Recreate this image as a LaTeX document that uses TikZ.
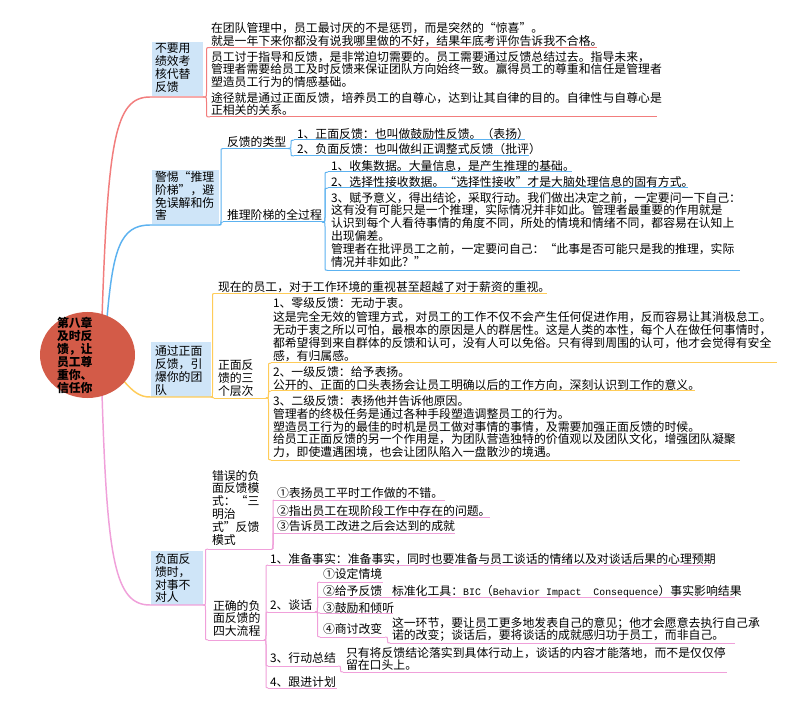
\documentclass[tikz,border=0pt]{standalone}
\usepackage{fontspec}
\setmainfont{Noto Sans CJK SC}
\newfontfamily\monof{Liberation Mono}
\usetikzlibrary{calc,shapes.geometric}
\definecolor{redb}{RGB}{242,125,125}
\definecolor{blueb}{RGB}{92,178,240}
\definecolor{yelb}{RGB}{255,204,88}
\definecolor{pinkb}{RGB}{240,160,218}
\definecolor{boxc}{RGB}{207,229,248}
\definecolor{ctrc}{RGB}{211,91,72}
\newcommand\ulin[4]{\coordinate (#1l) at (#2,#4);\coordinate (#1r) at (#3,#4);\draw[subl] (#1l) -- (#1r);}
\newcommand\mymono[1]{{\monof\fontsize{7.4}{9.6}\selectfont #1}}
\begin{document}
\begin{tikzpicture}[x=0.75pt,y=-0.75pt,
 txt/.style={anchor=north west,inner sep=0pt,outer sep=0pt,align=left,text=black,font=\fontsize{8.9}{9.6}\selectfont},
 mainl/.style={line width=1.1pt},
 subl/.style={line width=0.75pt},
 xm/.style={to path={let \p1=(\tikztostart),\p2=(\tikztotarget),\n1={\x1/2+\x2/2},\n2={(\y2>\y1?1:-1)*min(3.5pt,abs(\y2-\y1)/2)} in .. controls (\n1,\y1) .. (\n1,{\y1+(\n2)}) -- (\n1,{\y2-(\n2)}) .. controls (\n1,\y2) .. (\tikztotarget)}}
]
\fill[white] (0,0) rectangle (800,709);
\useasboundingbox (0,0) rectangle (800,709);

\coordinate (r0) at (102,318);
\coordinate (b0) at (107,318);
\coordinate (y0) at (123,380);
\coordinate (p0) at (102,393);

% ---------- branch 1 ----------
\begin{scope}[color=redb]
\fill[boxc] (152,42) rectangle (203,96.5);
\node[txt] (T1) at (155,43.5) {不要用\\绩效考\\核代替\\反馈};
\coordinate (T1l) at (150,97); \coordinate (T1r) at (203,97);
\draw[mainl] (r0) .. controls (108,140) and (115,97) .. (T1l) -- (T1r);
\node[txt] (A) at (211,22.5) {在团队管理中，员工最讨厌的不是惩罚，而是突然的“惊喜”。\\就是一年下来你都没有说我哪里做的不好，结果年底考评你告诉我不合格。};
\ulin{A}{210}{597}{47.5}
\node[txt] (B) at (211,51) {员工讨于指导和反馈，是非常迫切需要的。员工需要通过反馈总结过去。指导未来，\\管理者需要给员工及时反馈来保证团队方向始终一致。赢得员工的尊重和信任是管理者\\塑造员工行为的情感基础。\\[2pt]途径就是通过正面反馈，培养员工的自尊心，达到让其自律的目的。自律性与自尊心是\\正相关的关系。};
\ulin{B}{210}{657}{117}
\draw[subl] (T1r) to[xm] (Al);
\draw[subl] (T1r) to[xm] (Bl);
\end{scope}

% ---------- branch 2 ----------
\begin{scope}[color=blueb]
\fill[boxc] (152,170) rectangle (219,224.5);
\node[txt] (T2) at (155,171.5) {警惕“推理\\阶梯”，避\\免误解和伤\\害};
\coordinate (T2l) at (150,225); \coordinate (T2r) at (219,225);
\draw[mainl] (b0) .. controls (113,250) and (120,225) .. (T2l) -- (T2r);
\node[txt] (K1) at (227,136) {反馈的类型};
\ulin{K1}{223}{288}{148.5}
\node[txt] (K2) at (227,209) {推理阶梯的全过程};
\ulin{K2}{223}{322}{222}
\draw[subl] (T2r) to[xm] (K1l);
\draw[subl] (T2r) to[xm] (K2l);
\node[txt] (K1a) at (297,128) {1、正面反馈：也叫做鼓励性反馈。（表扬）};
\ulin{K1a}{294}{525}{140}
\node[txt] (K1b) at (297,143.5) {2、负面反馈：也叫做纠正调整式反馈（批评）};
\ulin{K1b}{294}{529}{156}
\draw[subl] (K1r) to[xm] (K1al);
\draw[subl] (K1r) to[xm] (K1bl);
\node[txt] (K2a) at (331,160.5) {1、收集数据。大量信息，是产生推理的基础。};
\ulin{K2a}{328}{572}{172}
\node[txt] (K2b) at (331,176.5) {2、选择性接收数据。“选择性接收”才是大脑处理信息的固有方式。};
\ulin{K2b}{328}{688}{188}
\node[txt] (K2c) at (331,192) {3、赋予意义，得出结论，采取行动。我们做出决定之前，一定要问一下自己：\\这有没有可能只是一个推理，实际情况并非如此。管理者最重要的作用就是\\认识到每个人看待事情的角度不同，所处的情境和情绪不同，都容易在认知上\\出现偏差。\\管理者在批评员工之前，一定要问自己：“此事是否可能只是我的推理，实际\\情况并非如此？”};
\ulin{K2c}{328}{740}{270.5}
\draw[subl] (K2r) to[xm] (K2al);
\draw[subl] (K2r) to[xm] (K2bl);
\draw[subl] (K2r) to[xm] (K2cl);
\end{scope}

% ---------- branch 3 ----------
\begin{scope}[color=yelb]
\fill[boxc] (151,342) rectangle (211,396.5);
\node[txt] (T3) at (155,346) {通过正面\\反馈，引\\爆你的团\\队};
\coordinate (T3l) at (150,397); \coordinate (T3r) at (211,397);
\draw[mainl] (y0) .. controls (133,392) and (140,397) .. (T3l) -- (T3r);
\node[txt] (D1) at (218,281.5) {现在的员工，对于工作环境的重视甚至超越了对于薪资的重视。};
\ulin{D1}{214}{547}{293.5}
\node[txt] (D2) at (218,360) {正面反\\馈的三\\个层次};
\ulin{D2}{214}{266}{398}
\draw[subl] (T3r) to[xm] (D1l);
\draw[subl] (T3r) to[xm] (D2l);
\node[txt] (E1) at (273,297) {1、零级反馈：无动于衷。\\[1.5pt]这是完全无效的管理方式，对员工的工作不仅不会产生任何促进作用，反而容易让其消极怠工。\\无动于衷之所以可怕，最根本的原因是人的群居性。这是人类的本性，每个人在做任何事情时，\\都希望得到来自群体的反馈和认可，没有人可以免俗。只有得到周围的认可，他才会觉得有安全\\感，有归属感。};
\ulin{E1}{271}{777}{363}
\node[txt] (E2) at (273,367) {2、一级反馈：给予表扬。\\公开的、正面的口头表扬会让员工明确以后的工作方向，深刻认识到工作的意义。};
\ulin{E2}{271}{695}{391}
\node[txt] (E3) at (273,395.5) {3、二级反馈：表扬他并告诉他原因。\\管理者的终极任务是通过各种手段塑造调整员工的行为。\\塑造员工行为的最佳的时机是员工做对事情的事情，及需要加强正面反馈的时候。\\给员工正面反馈的另一个作用是，为团队营造独特的价值观以及团队文化，增强团队凝聚\\力，即使遭遇困境，也会让团队陷入一盘散沙的境遇。};
\ulin{E3}{271}{740}{460}
\draw[subl] (D2r) to[xm] (E1l);
\draw[subl] (D2r) to[xm] (E2l);
\draw[subl] (D2r) to[xm] (E3l);
\end{scope}

% ---------- branch 4 ----------
\begin{scope}[color=pinkb]
\fill[boxc] (151,551) rectangle (203,604.5);
\node[txt] (T4) at (155,553.5) {负面反\\馈时，\\对事不\\对人};
\coordinate (T4l) at (150,605); \coordinate (T4r) at (203,605);
\draw[mainl] (p0) .. controls (107,560) and (115,605) .. (T4l) -- (T4r);
\node[txt] (F1) at (212,470) {错误的负\\面反馈模\\式：“三\\明治\\式”反馈\\模式};
\ulin{F1}{208}{272}{549}
\node[txt] (F2) at (213,600) {正确的负\\面反馈的\\四大流程};
\ulin{F2}{208}{264}{640}
\draw[subl] (T4r) to[xm] (F1l);
\draw[subl] (T4r) to[xm] (F2l);
\node[txt] (G1) at (277,487) {①表扬员工平时工作做的不错。};
\ulin{G1}{274}{445}{500}
\node[txt] (G2) at (277,505) {②指出员工在现阶段工作中存在的问题。};
\ulin{G2}{274}{490}{517}
\node[txt] (G3) at (277,520) {③告诉员工改进之后会达到的成就};
\ulin{G3}{274}{455}{533}
\draw[subl] (F1r) to[xm] (G1l);
\draw[subl] (F1r) to[xm] (G2l);
\draw[subl] (F1r) to[xm] (G3l);
\node[txt] (H1) at (270,553.5) {1、准备事实：准备事实，同时也要准备与员工谈话的情绪以及对谈话后果的心理预期};
\ulin{H1}{268}{710}{565}
\node[txt] (H2) at (270,600) {2、谈话};
\ulin{H2}{268}{315}{612}
\node[txt] (H3) at (270,653) {3、行动总结};
\ulin{H3}{268}{338}{666}
\node[txt] (H4) at (270,677) {4、跟进计划};
\ulin{H4}{268}{337}{688}
\draw[subl] (F2r) to[xm] (H1l);
\draw[subl] (F2r) to[xm] (H2l);
\draw[subl] (F2r) to[xm] (H3l);
\draw[subl] (F2r) to[xm] (H4l);
\node[txt] (I1) at (323,568.5) {①设定情境};
\ulin{I1}{320}{383}{582}
\node[txt] (I2) at (323,585) {②给予反馈};
\ulin{I2}{320}{387}{597}
\node[txt] (I3) at (323,602) {③鼓励和倾听};
\ulin{I3}{320}{393}{613}
\node[txt] (I4) at (323,623) {④商讨改变};
\ulin{I4}{320}{385}{637}
\draw[subl] (H2r) to[xm] (I1l);
\draw[subl] (H2r) to[xm] (I2l);
\draw[subl] (H2r) to[xm] (I3l);
\draw[subl] (H2r) to[xm] (I4l);
\node[txt] (J2) at (392,585) {标准化工具：\mymono{BIC}（\mymono{Behavior Impact~~Consequence}）事实影响结果};
\ulin{J2}{390}{735}{597}
\draw[subl] (I2r) -- (J2l);
\node[txt] (J4) at (392,617) {这一环节，要让员工更多地发表自己的意见；他才会愿意去执行自己承\\诺的改变；谈话后，要将谈话的成就感归功于员工，而非自己。};
\ulin{J4}{390}{735}{643}
\draw[subl] (I4r) to[xm] (J4l);
\node[txt] (J3) at (346,647) {只有将反馈结论落实到具体行动上，谈话的内容才能落地，而不是仅仅停\\留在口头上。};
\ulin{J3}{343}{727}{672}
\draw[subl] (H3r) to[xm] (J3l);
\end{scope}

% ---------- centre ----------
\node[ellipse,fill=ctrc,inner sep=0pt,minimum width=71.25pt,minimum height=64.5pt] (ctr) at (87.5,355) {};
\node[txt,font=\bfseries\fontsize{8.9}{9.75}\selectfont] (ctrt) at (57,317) {第八章\\及时反\\馈，让\\员工尊\\重你、\\信任你};
\end{tikzpicture}
\end{document}
